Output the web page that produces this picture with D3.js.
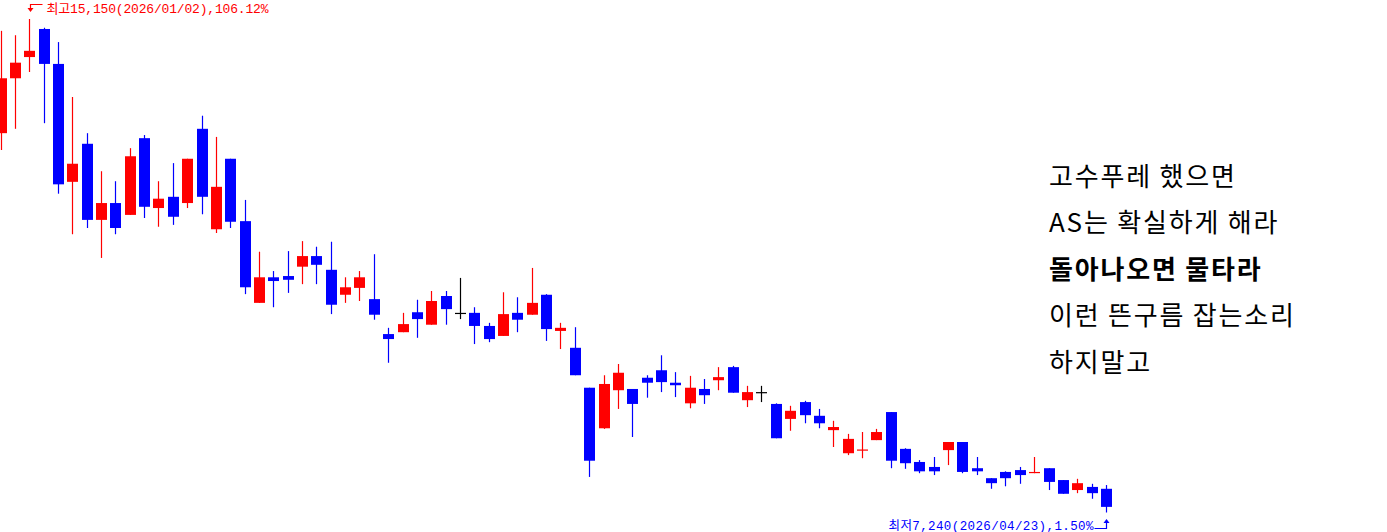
<!DOCTYPE html>
<html><head><meta charset="utf-8">
<script src="https://cdn.jsdelivr.net/npm/d3@7"></script>
<style>html,body{margin:0;padding:0;background:#fff;overflow:hidden}</style>
</head><body>
<svg id="c" width="1387" height="532"></svg>
<script>
const opens = [13320,14200,14540,14990,14430,12540,13150,11930,12200,12010,13240,12120,12300,12200,13390,11780,12910,11910,10600,11010,11030,11180,11350,11130,10730,10840,10660,10100,10130,10450,10250,10710,10440,10440,10230,10070,10440,10410,10730,10150,9880,9240,8590,9200,9220,9400,9520,9320,8990,9220,9360,9570,9040,9170,8980,8740,9010,8790,8560,8190,8240,8400,8850,8260,8050,7970,8240,8370,7950,7790,7890,7920,7880,7950,7760,7600,7650,7620];
const highs = [14960,14890,15150,15010,14780,13900,13320,12710,12550,13080,13290,12550,12840,12910,13600,13260,12910,12250,11420,11110,11430,11590,11500,11580,11010,11110,11380,10200,10440,10650,10790,10790,11000,10530,10280,10770,10690,11160,10740,10280,10210,9240,9440,9620,9220,9440,9760,9490,9430,9380,9570,9590,9270,9270,8990,8950,9030,8900,8710,8500,8530,8580,8850,8270,8080,8130,8370,8370,8130,7790,7900,7970,8130,7950,7760,7780,7700,7680];
const lows = [13050,13390,14300,13480,12350,11700,11800,11320,11700,12010,11960,11820,11850,12120,12020,11720,11800,10740,10600,10530,10760,10900,10900,10420,10600,10630,10330,9640,10130,10040,10250,10250,10340,9940,9970,10070,10130,10410,9990,9860,9440,7810,8580,8900,8450,9080,9170,9090,8910,8980,9200,9160,8930,9010,8430,8550,8670,8590,8290,8160,8110,8400,7950,7940,7870,7840,8000,7870,7840,7620,7660,7700,7870,7600,7540,7550,7460,7240];
const closes = [14200,14450,14640,14430,12500,12830,11930,12200,11800,12950,12140,12270,11980,12910,12300,12460,11900,10850,11010,10950,10970,11350,11210,10570,10850,11010,10410,10020,10260,10340,10630,10500,10440,10230,10020,10420,10330,10600,10180,10200,9440,8070,9300,9480,8980,9320,9330,9280,9240,9120,9410,9160,9170,9170,8430,8870,8800,8670,8610,8420,8250,8530,8070,8030,7900,7900,8370,7890,7900,7710,7790,7840,7890,7730,7540,7710,7550,7330];
const maxLabel = "최고15,150(2026/01/02),106.12%";
const minLabel = "최저7,240(2026/04/23),1.50%";
const noteLines = ["고수푸레 했으면", "AS는 확실하게 해라", "돌아나오면 물타라", "이런 뜬구름 잡는소리", "하지말고"];
const boldLine = 2;

const svg = d3.select("#c");
svg.append("rect").attr("width",1387).attr("height",532).attr("fill","#fff");
const data = opens.map((o,i)=>({i, o, h:highs[i], l:lows[i], c:closes[i]}));
const x = d3.scaleLinear().domain([0, data.length-1]).range([0.5, 1106]);
const y = d3.scaleLinear().domain([7240, 15150]).range([512.5, 19]);
const col = d => d.c > d.o ? "#ff0000" : (d.c < d.o ? "#0000ff" : "#000000");
const bw = 11;

const g = svg.append("g");
g.selectAll("line.w").data(data).join("line")
  .attr("x1", d=>Math.round(x(d.i))+0.5).attr("x2", d=>Math.round(x(d.i))+0.5)
  .attr("y1", d=>y(d.h)).attr("y2", d=>y(d.l))
  .attr("stroke", col).attr("stroke-width",1.2);
g.selectAll("rect.b").data(data).join("rect")
  .attr("x", d=>Math.round(x(d.i))-5)
  .attr("width", bw)
  .attr("y", d=>Math.min(y(d.o),y(d.c)))
  .attr("height", d=>Math.max(1.2, Math.abs(y(d.o)-y(d.c))))
  .attr("fill", col);

// max label
const iMax = d3.maxIndex(highs), iMin = d3.minIndex(lows);
const mx = Math.round(x(iMax))+1.5;
svg.append("path").attr("d",`M${mx+12},4.5 H${mx} V9`).attr("fill","none").attr("stroke","#ff0000").attr("stroke-width",1.2);
svg.append("path").attr("d",`M${mx-3},8 L${mx+3},8 L${mx},12 Z`).attr("fill","#ff0000");
svg.append("text").attr("x", mx+16).attr("y", 13).text(maxLabel)
  .attr("font-family","'Liberation Mono', 'Noto Sans CJK KR', monospace").attr("font-size",13)
  .attr("fill","#ff0000").attr("textLength",222).attr("lengthAdjust","spacing");

const nx = Math.round(x(iMin))+0.5;
svg.append("path").attr("d",`M${nx-12},528.5 H${nx} V522`).attr("fill","none").attr("stroke","#0000ff").attr("stroke-width",1.2);
svg.append("path").attr("d",`M${nx-3},523 L${nx+3},523 L${nx},519 Z`).attr("fill","#0000ff");
svg.append("text").attr("x", nx-13).attr("y", 529.5).attr("text-anchor","end").text(minLabel)
  .attr("font-family","'Liberation Mono', 'Noto Sans CJK KR', monospace").attr("font-size",12.5)
  .attr("fill","#0000ff").attr("textLength",205).attr("lengthAdjust","spacing");

svg.selectAll("text.note").data(noteLines).join("text")
  .attr("x",1049).attr("y",(d,i)=>174.5 + i*46.4)
  .attr("dominant-baseline","central")
  .attr("font-family","'Noto Sans CJK KR', sans-serif").attr("font-size",26)
  .attr("letter-spacing",1.8)
  .attr("font-weight",(d,i)=>i===boldLine?700:400)
  .attr("fill","#000").text(d=>d);
</script>
</body></html>
